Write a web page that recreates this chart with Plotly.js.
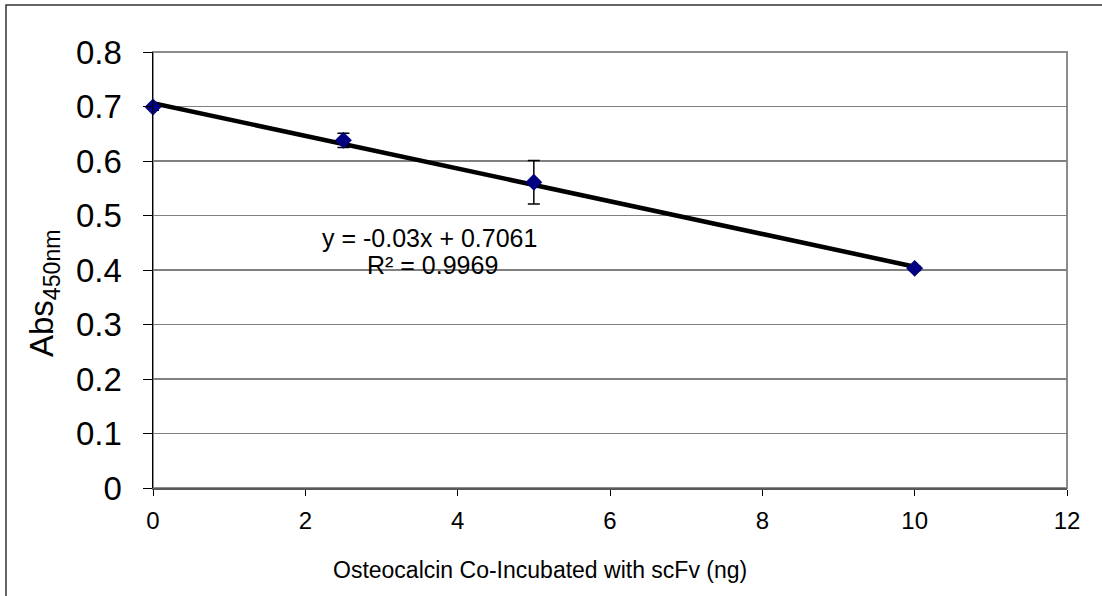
<!DOCTYPE html>
<html>
<head>
<meta charset="utf-8">
<script src="https://cdn.plot.ly/plotly-3.0.1.min.js"></script>
<style>
html,body{margin:0;padding:0;background:#fff;}
#chart{width:1102px;height:596px;}
</style>
</head>
<body>
<div id="chart"></div>
<script>
// Data
const xValues = [0, 2.5, 5, 10];
const yValues = [0.699, 0.638, 0.561, 0.403];
const yErrors = [0.006, 0.013, 0.040, 0.004];
const trendX = [0, 10];
const trendY = [0.7061, 0.4061];
const equationLine = "y = -0.03x + 0.7061";
const rSquaredLine = "R² = 0.9969";
const xTitle = "Osteocalcin Co-Incubated with scFv (ng)";
const yTitle = "Abs<sub>450nm</sub>";
const xTicks = [0, 2, 4, 6, 8, 10, 12];
const yTicks = [0, 0.1, 0.2, 0.3, 0.4, 0.5, 0.6, 0.7, 0.8];

const FONT = "Liberation Sans, Arial, sans-serif";

const traces = [
  {
    x: trendX, y: trendY, mode: "lines", type: "scatter",
    line: {color: "#000000", width: 4.5},
    hoverinfo: "skip", showlegend: false, cliponaxis: false
  },
  {
    x: xValues, y: yValues, mode: "markers", type: "scatter",
    marker: {symbol: "diamond", color: "#000080", size: 13},
    error_y: {type: "data", array: yErrors, visible: true, color: "#000000", thickness: 1.5, width: 6},
    showlegend: false, cliponaxis: false
  }
];

const L = 153, R = 35, T = 52, B = 108;
const W = 1102, H = 596;
const pw = W - L - R, ph = H - T - B;
const px2paperX = p => (p - L) / pw;
const px2paperY = p => (T + ph - p) / ph;

const layout = {
  width: W, height: H,
  margin: {l: L, r: R, t: T, b: B, pad: 0},
  paper_bgcolor: "#ffffff", plot_bgcolor: "#ffffff",
  font: {family: FONT, color: "#000000"},
  showlegend: false,
  xaxis: {
    range: [0, 12], tickvals: xTicks, ticktext: xTicks.map(String),
    showgrid: false, zeroline: false,
    showline: true, linecolor: "#595959", linewidth: 2,
    ticks: "outside", ticklen: 6, tickcolor: "#000000", tickwidth: 1,
    ticklabelstandoff: 4,
    tickfont: {size: 24, family: FONT}
  },
  yaxis: {
    range: [0, 0.8], tickvals: yTicks, ticktext: yTicks.map(v => v === 0 ? "0" : v.toFixed(1)),
    showgrid: true, gridcolor: "#808080", gridwidth: 1.5,
    zeroline: false,
    showline: true, linecolor: "#000000", linewidth: 1.5,
    ticks: "outside", ticklen: 9, tickcolor: "#000000", tickwidth: 1,
    ticklabelstandoff: 14,
    tickfont: {size: 33, family: FONT}
  },
  shapes: [
    {type: "rect", xref: "paper", yref: "paper", x0: 0, x1: 1, y0: 0, y1: 1,
     line: {color: "#8c8c8c", width: 2}, layer: "below"},
    {type: "rect", xref: "paper", yref: "paper",
     x0: px2paperX(6), x1: px2paperX(W + 20), y0: px2paperY(H + 20), y1: px2paperY(5),
     line: {color: "#333333", width: 1.5}, layer: "below"}
  ],
  annotations: [
    {x: 3.63, y: (488 - 238) / 545, xref: "x", yref: "y", text: equationLine, showarrow: false,
     align: "center", font: {size: 25, family: FONT, color: "#000000"}},
    {x: 3.67, y: (488 - 265) / 545, xref: "x", yref: "y", text: rSquaredLine, showarrow: false,
     align: "center", font: {size: 25, family: FONT, color: "#000000"}},
    {x: px2paperX(540), y: px2paperY(570), xref: "paper", yref: "paper", text: xTitle,
     showarrow: false, xanchor: "center", yanchor: "middle",
     font: {size: 23, family: FONT, color: "#000000"}},
    {x: px2paperX(44), y: px2paperY(293), xref: "paper", yref: "paper", text: yTitle,
     showarrow: false, textangle: -90, xanchor: "center", yanchor: "middle",
     font: {size: 33, family: FONT, color: "#000000"}}
  ]
};

Plotly.newPlot("chart", traces, layout, {displayModeBar: false, staticPlot: true});
</script>
</body>
</html>
